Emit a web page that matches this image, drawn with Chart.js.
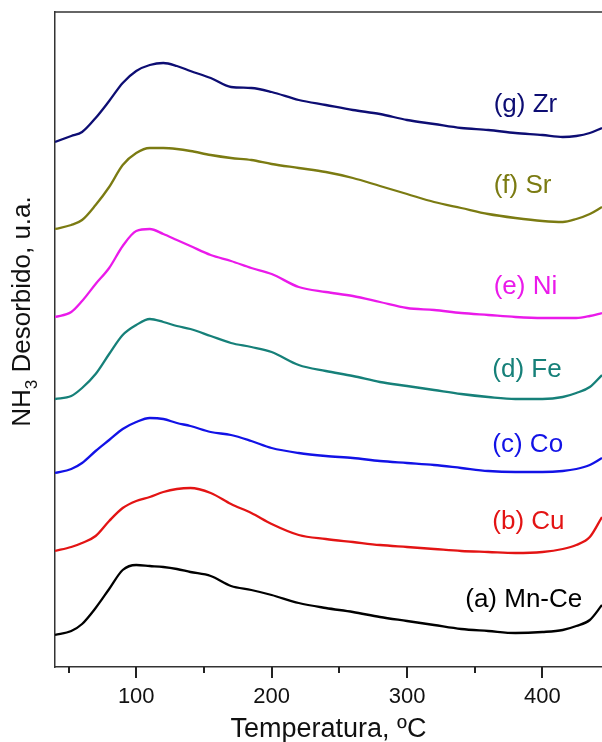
<!DOCTYPE html>
<html>
<head>
<meta charset="utf-8">
<script src="https://cdn.jsdelivr.net/npm/chart.js@4"></script>
<style>
  html, body { margin: 0; padding: 0; background: #fff; }
  #wrap { width: 602px; height: 742px; }
</style>
</head>
<body>
<div id="wrap"><canvas id="chart-tpd" width="602" height="742"></canvas></div>
<script>
// NH3-TPD profiles, temperature in ºC, intensity in arbitrary units (stacked offsets)
const temps = [40, 52, 60, 70, 80, 90, 100, 110, 120, 130, 140, 155, 170, 185, 200, 220, 240, 260, 280, 300, 320, 340, 360, 380, 400, 415, 425, 435, 444];

const zrValues   = [525, 531, 535, 549, 566, 584, 596, 602, 604, 601, 596, 589, 580, 579, 575, 567, 562, 557, 553, 547, 543, 539, 537, 534, 532, 530, 531, 534, 539];
const srValues   = [438, 442, 447, 462, 480, 502, 514, 519, 519, 518, 516, 512, 509, 507, 503, 499, 495, 489, 481, 473, 465, 459, 453, 449, 446, 445, 448, 453, 460];
const niValues   = [350, 355, 366, 383, 399, 421, 436, 438, 433, 427, 421, 412, 406, 399, 393, 380, 375, 371, 365, 359, 357, 354, 352, 350, 349, 349, 349, 351, 354];
const feValues   = [268, 271, 279, 293, 313, 332, 342, 348, 345, 341, 338, 331, 324, 320, 315, 302, 296, 291, 285, 281, 277, 273, 270, 268, 268, 270, 274, 280, 292];
const coValues   = [194, 198, 204, 216, 227, 238, 245, 249, 248, 244, 241, 235, 232, 226, 219, 214, 211, 209, 206, 204, 202, 199, 196, 195, 195, 196, 198, 202, 209];
const cuValues   = [116, 120, 124, 131, 146, 159, 166, 170, 175, 178, 179, 174, 163, 154, 143, 132, 128, 125, 122, 120, 118, 116, 115, 114, 115, 118, 122, 130, 150];
const mnCeValues = [32, 36, 43, 59, 78, 97, 102, 101, 100, 98, 95, 91, 81, 77, 72, 64, 59, 55, 50, 46, 42, 38, 36, 34, 35, 37, 41, 47, 62];

const seriesNames = ['(g) Zr', '(f) Sr', '(e) Ni', '(d) Fe', '(c) Co', '(b) Cu', '(a) Mn-Ce'];
const seriesData  = [zrValues, srValues, niValues, feValues, coValues, cuValues, mnCeValues];
const seriesColors = ['#0d0d73', '#7b7b12', '#ea1aea', '#168079', '#1212e6', '#e31414', '#000000'];

const xMajorTicks = [100, 200, 300, 400];
const xMinorTicks = [50, 150, 250, 350, 450];

// where the curve names sit (temperature, intensity)
const labelAnchors = [
    [364, 562], [364, 481], [364, 380], [363, 297], [363, 222], [363, 145], [343, 67]
];

const FONT = "'Liberation Sans', Arial, sans-serif";

// ─── Plugins ───

const frameAndLabels = {
    id: 'frameAndLabels',
    afterDraw(chart) {
        const { ctx, chartArea, scales } = chart;
        ctx.save();

        // top frame line
        ctx.strokeStyle = '#333';
        ctx.lineWidth = 1.5;
        ctx.beginPath();
        ctx.moveTo(chartArea.left, chartArea.top);
        ctx.lineTo(chartArea.right, chartArea.top);
        ctx.stroke();

        // x-axis tick marks: long for labelled values, short in between
        const bottom = scales.x.top;
        ctx.lineWidth = 2;
        ctx.strokeStyle = '#222';
        const drawTick = (v, len) => {
            if (v < scales.x.min || v > scales.x.max) return;
            const px = Math.round(scales.x.getPixelForValue(v));
            ctx.beginPath();
            ctx.moveTo(px, bottom);
            ctx.lineTo(px, bottom + len);
            ctx.stroke();
        };
        xMajorTicks.forEach(v => drawTick(v, 11));
        xMinorTicks.forEach(v => drawTick(v, 6));

        // curve names
        ctx.font = `26px ${FONT}`;
        ctx.textAlign = 'left';
        ctx.textBaseline = 'middle';
        seriesNames.forEach((name, i) => {
            const [tx, ty] = labelAnchors[i];
            ctx.fillStyle = seriesColors[i];
            ctx.fillText(name, scales.x.getPixelForValue(tx), scales.y.getPixelForValue(ty));
        });

        // y-axis title with subscript
        const mainFont = `26px ${FONT}`;
        const subFont = `17px ${FONT}`;
        ctx.font = mainFont;
        const wNH = ctx.measureText('NH').width;
        const wRest = ctx.measureText(' Desorbido, u.a.').width;
        ctx.font = subFont;
        const wSub = ctx.measureText('3').width;
        const total = wNH + wSub + wRest;

        ctx.translate(23, (chartArea.top + chartArea.bottom) / 2 - 28);
        ctx.rotate(-Math.PI / 2);
        ctx.fillStyle = '#111';
        ctx.textAlign = 'left';
        ctx.textBaseline = 'middle';
        let x = -total / 2;
        ctx.font = mainFont;
        ctx.fillText('NH', x, 0);
        x += wNH;
        ctx.font = subFont;
        ctx.fillText('3', x, 9);
        x += wSub;
        ctx.font = mainFont;
        ctx.fillText(' Desorbido, u.a.', x, 0);

        ctx.restore();
    }
};

// ─── Chart ───

const canvas = document.getElementById('chart-tpd');

new Chart(canvas, {
    type: 'line',
    data: {
        labels: temps,
        datasets: seriesNames.map((name, i) => ({
            label: name,
            data: temps.map((t, j) => ({ x: t, y: seriesData[i][j] })),
            borderColor: seriesColors[i],
            borderWidth: 2.3,
            pointRadius: 0,
            fill: false,
            cubicInterpolationMode: 'monotone'
        }))
    },
    options: {
        responsive: false,
        animation: false,
        layout: { padding: { top: 12, right: 0, left: 0, bottom: 0 } },
        plugins: {
            legend: { display: false },
            tooltip: { enabled: false }
        },
        scales: {
            x: {
                type: 'linear',
                min: 40,
                max: 444,
                afterFit: scale => { scale.height = 75; },
                afterBuildTicks: scale => {
                    scale.ticks = xMajorTicks.map(v => ({ value: v }));
                },
                border: { display: true, color: '#333', width: 1.5 },
                grid: { drawOnChartArea: false, drawTicks: true, tickLength: 11, tickColor: 'rgba(0,0,0,0)' },
                ticks: {
                    autoSkip: false,
                    maxRotation: 0,
                    padding: 6,
                    color: '#111',
                    font: { family: FONT, size: 22 }
                },
                title: {
                    display: true,
                    text: 'Temperatura, ºC',
                    color: '#111',
                    font: { family: FONT, size: 27 },
                    padding: { top: 0, bottom: -4 }
                }
            },
            y: {
                min: 0,
                max: 655,
                afterFit: scale => { scale.width = 55; },
                border: { display: true, color: '#333', width: 1.5 },
                grid: { display: false, drawTicks: false },
                ticks: { display: false }
            }
        }
    },
    plugins: [frameAndLabels]
});
</script>
</body>
</html>
